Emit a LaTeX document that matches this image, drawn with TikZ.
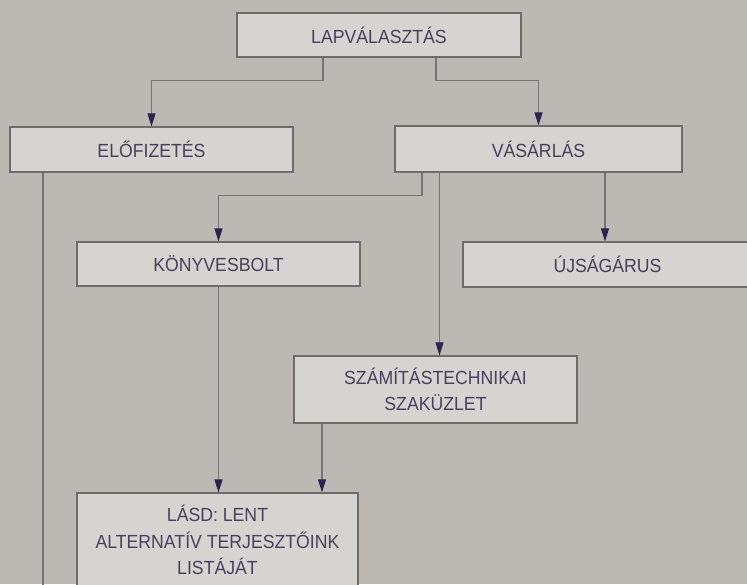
\documentclass[tikz,border=0pt]{standalone}
\usepackage{fontspec}
\setmainfont{Liberation Sans}[FakeStretch=0.93]
\usetikzlibrary{arrows.meta}
\definecolor{bg}{RGB}{188,185,181}
\definecolor{boxfill}{RGB}{214,212,208}
\definecolor{boxline}{RGB}{112,108,108}
\definecolor{conline}{RGB}{120,116,116}
\definecolor{tipcol}{RGB}{45,35,80}
\definecolor{txt}{RGB}{72,64,92}
\begin{document}
\begin{tikzpicture}[x=1pt,y=-1pt,
  box/.style={draw=boxline, line width=1.2pt, fill=boxfill, rectangle, inner sep=0pt,
    text=txt, align=center, font=\fontsize{19}{26.5}\selectfont},
  arr/.style={draw=conline, line width=1.1pt, -{Triangle[width=8pt,length=13pt,fill=tipcol,color=tipcol]}},
  ln/.style={draw=conline, line width=1.1pt}]
\fill[bg] (0,0) rectangle (747,584);
\useasboundingbox (0,0) rectangle (747,584);
\clip (0,0) rectangle (747,584);

\node[box, minimum width=284pt, minimum height=44pt] (lap) at (379,35) {LAPVÁLASZTÁS};
\node[box, minimum width=283pt, minimum height=45pt] (elo) at (151.5,149.5) {ELŐFIZETÉS};
\node[box, minimum width=287pt, minimum height=46pt] (vas) at (538.5,149) {VÁSÁRLÁS};
\node[box, minimum width=283pt, minimum height=44pt] (kony) at (218.5,264) {KÖNYVESBOLT};
\node[box, minimum width=289pt, minimum height=45pt, text width=289pt] (ujs) at (607.5,264.5) {ÚJSÁGÁRUS};
\node[box, minimum width=283pt, minimum height=67pt] (szam) at (435.5,389.5) {SZÁMÍTÁSTECHNIKAI\\SZAKÜZLET};
\node[box, minimum width=281pt, minimum height=94pt] (lasd) at (217.5,540) {LÁSD: LENT\\ALTERNATÍV TERJESZTŐINK\\LISTÁJÁT};

\coordinate (lapL) at ([xshift=-56pt]lap.south);
\coordinate (lapR) at ([xshift=57pt]lap.south);
\coordinate (eloL) at ([xshift=-108.5pt]elo.south);
\coordinate (vasA) at ([xshift=-116.5pt]vas.south);
\coordinate (vasB) at ([xshift=-99pt]vas.south);
\coordinate (vasC) at ([xshift=66.5pt]vas.south);
\coordinate (szamL) at ([xshift=-113.5pt]szam.south);
\coordinate (eloEnd) at (eloL |- 0,600);

\draw[arr] (lapL) -- ++(0,23) -| (elo.north);
\draw[arr] (lapR) -- ++(0,23) -| (vas.north);
\draw[ln] (eloL) -- (eloEnd);
\draw[arr] (vasA) -- ++(0,23) -| (kony.north);
\draw[arr] (vasB) -- (vasB |- szam.north);
\draw[arr] (vasC) -- (vasC |- ujs.north);
\draw[arr] (kony.south) -- (kony.south |- lasd.north);
\draw[arr] (szamL) -- (szamL |- lasd.north);
\end{tikzpicture}
\end{document}
